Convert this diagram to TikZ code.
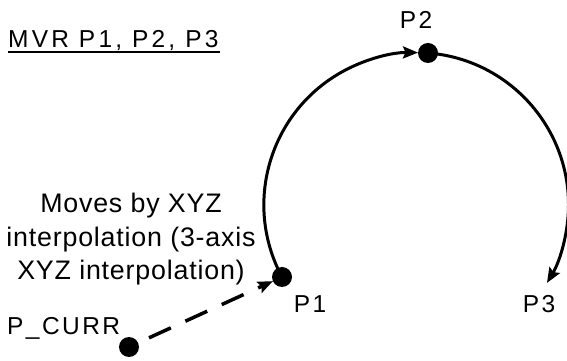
\documentclass[tikz,border=0pt]{standalone}
\usepackage{fontspec}
\setmainfont{Liberation Sans}
\usetikzlibrary{arrows.meta}
\begin{document}
\begin{tikzpicture}[x=1pt,y=1pt,
  lbl/.style={font=\fontsize{24.5}{28}\selectfont\addfontfeature{LetterSpace=10}, inner sep=0pt, anchor=base},
  body/.style={font=\fontsize{26.8}{33.5}\selectfont\addfontfeature{LetterSpace=3}, inner sep=0pt, align=center, anchor=base},
  dot/.style={circle, fill=black, minimum size=20pt, inner sep=0pt, outer sep=0pt},
  motion/.style={line width=3pt, -{Stealth[length=15pt,width=12pt,inset=2.5pt]}},
]
\useasboundingbox (0,0) rectangle (567,361);
\node[dot] (p1) at (282,84) {};
\node[dot] (p2) at (428,308) {};
\node[dot] (pc) at (129,14) {};
\coordinate (p3) at (547,78);
\draw[motion] (p1.center) arc[start angle=208.25, end angle=89.3, radius=152.3];
\draw[motion] (p2.center) arc[start angle=85.56, end angle=-30.85, radius=152.3];
\draw[motion, line width=3.5pt, dash pattern=on 24pt off 16pt, dash phase=28pt] (pc) -- (p1);
\node[lbl, anchor=base west, font=\fontsize{24.5}{28}\selectfont\addfontfeature{LetterSpace=13}] (title) at (8,313) {MVR P1, P2, P3};
\draw[line width=1.5pt] ([yshift=-4pt]title.base west) -- ([xshift=1pt,yshift=-4pt]title.base east);
\node[lbl] (l2) at (416,332) {P2};
\node[lbl] (l1) at (310,48) {P1};
\node[lbl] (l3) at (539,48) {P3};
\node[lbl, anchor=base west] (lc) at (7,26) {P\_CURR};
\node[body] (desc) at (131,81) {Moves by XYZ\\interpolation (3-axis\\XYZ interpolation)};
\end{tikzpicture}
\end{document}
